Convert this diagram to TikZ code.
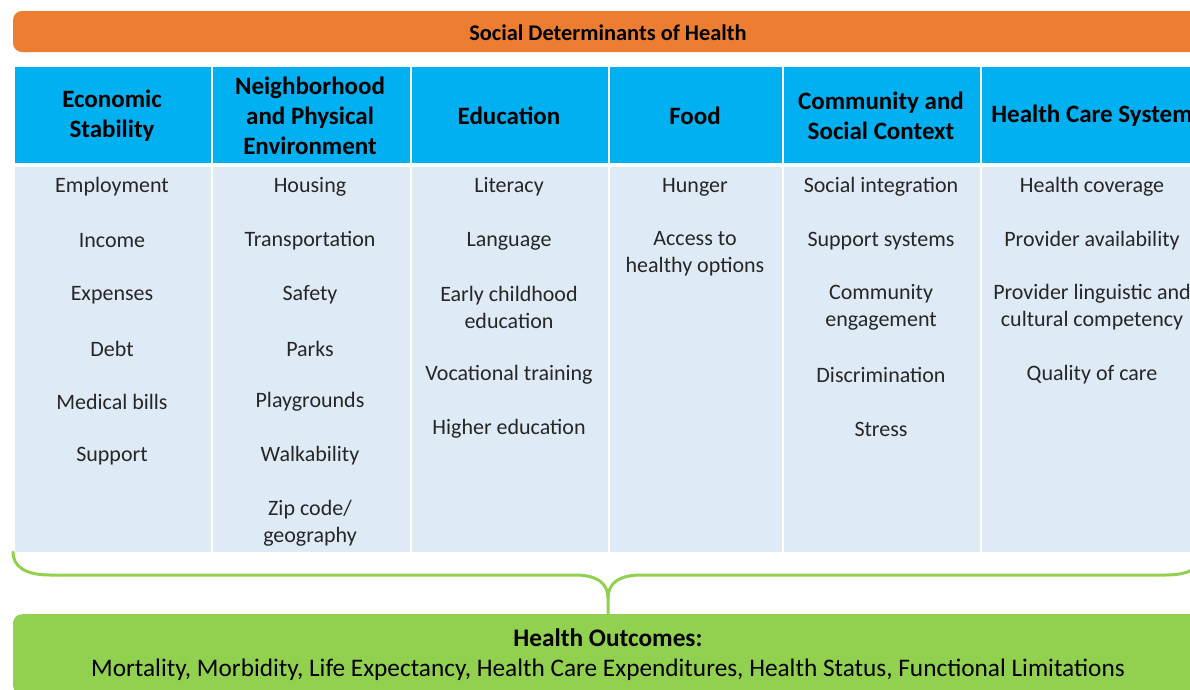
\documentclass[tikz,border=0pt]{standalone}
\usepackage{fontspec}
\setmainfont{Carlito}
\definecolor{orangebar}{HTML}{ED7D31}
\definecolor{headblue}{HTML}{00B0F0}
\definecolor{bodyblue}{HTML}{DEEBF7}
\definecolor{greenbar}{HTML}{92D050}
\definecolor{txt}{HTML}{262626}
\begin{document}
\begin{tikzpicture}[x=1pt,y=-1pt,
  headcell/.style={fill=headblue, draw=white, line width=2pt, inner sep=0pt, anchor=north west,
    minimum height=98pt},
  headtext/.style={inner sep=0pt, align=center, text=black, font=\fontsize{25}{30}\selectfont\bfseries},
  bodycell/.style={fill=bodyblue, draw=white, line width=2pt, inner sep=0pt, anchor=north west,
    minimum height=387pt},
  item/.style={inner sep=0pt, align=center, text=txt, font=\fontsize{22}{27}\selectfont},
  bar/.style={rounded corners=9pt, inner sep=0pt, align=center},
  brace/.style={draw=greenbar, line width=3pt, line cap=round}
]
\useasboundingbox (0,0) rectangle (1190,689);
\clip (0,0) rectangle (1190,689);

% top bar
\node[bar, fill=orangebar, minimum width=1190pt, minimum height=41pt] (top) at (608,31.5) {};
\node[inner sep=0pt, font=\fontsize{22.4}{26}\selectfont\bfseries, text=black] (toptext) at (608,32.5) {Social Determinants of Health};

% header cells
\node[headcell, minimum width=198pt] (hd1) at (13,65) {};
\node[headcell, minimum width=199pt] (hd2) at (211,65) {};
\node[headcell, minimum width=198pt] (hd3) at (410,65) {};
\node[headcell, minimum width=174pt] (hd4) at (608,65) {};
\node[headcell, minimum width=198pt] (hd5) at (782,65) {};
\node[headcell, minimum width=224pt] (hd6) at (980,65) {};
\node[headtext] (ht1) at (112,116) {Economic\\Stability};
\node[headtext] (ht2) at (310,116) {Neighborhood\\and Physical\\Environment};
\node[headtext] (ht3) at (509,116) {Education};
\node[headtext] (ht4) at (695,116) {Food};
\node[headtext] (ht5) at (881,116) {Community and\\Social Context};
\node[headtext] (ht6) at (1092,116) {Health Care System};

% body cells
\node[bodycell, minimum width=198pt] (bd1) at (13,165) {};
\node[bodycell, minimum width=199pt] (bd2) at (211,165) {};
\node[bodycell, minimum width=198pt] (bd3) at (410,165) {};
\node[bodycell, minimum width=174pt] (bd4) at (608,165) {};
\node[bodycell, minimum width=198pt] (bd5) at (782,165) {};
\node[bodycell, minimum width=224pt] (bd6) at (980,165) {};

% column 1
\node[item] (e1) at (112,187) {Employment};
\node[item] (e2) at (112,241) {Income};
\node[item] (e3) at (112,295) {Expenses};
\node[item] (e4) at (112,349) {Debt};
\node[item] (e5) at (112,402) {Medical bills};
\node[item] (e6) at (112,456) {Support};

% column 2
\node[item] (n1) at (310,187) {Housing};
\node[item] (n2) at (310,241) {Transportation};
\node[item] (n3) at (310,295) {Safety};
\node[item] (n4) at (310,349) {Parks};
\node[item] (n5) at (310,402) {Playgrounds};
\node[item] (n6) at (310,456) {Walkability};
\node[item] (n7) at (310,523.5) {Zip code/\\geography};

% column 3
\node[item] (d1) at (509,187) {Literacy};
\node[item] (d2) at (509,241) {Language};
\node[item] (d3) at (509,307.5) {Early childhood\\education};
\node[item] (d4) at (509,375) {Vocational training};
\node[item] (d5) at (509,429) {Higher education};

% column 4
\node[item] (f1) at (695,187) {Hunger};
\node[item] (f2) at (695,254) {Access to\\healthy options};

% column 5
\node[item] (c1) at (881,187) {Social integration};
\node[item] (c2) at (881,241) {Support systems};
\node[item] (c3) at (881,307.5) {Community\\engagement};
\node[item] (c4) at (881,375) {Discrimination};
\node[item] (c5) at (881,429) {Stress};

% column 6
\node[item] (h1) at (1092,187) {Health coverage};
\node[item] (h2) at (1092,241) {Provider availability};
\node[item] (h3) at (1092,307.5) {Provider linguistic and\\cultural competency};
\node[item] (h4) at (1092,375) {Quality of care};

% bottom bar
\node[bar, fill=greenbar, minimum width=1190pt, minimum height=80pt, anchor=north] (out) at (608,614) {};
\node[inner sep=0pt, align=center, font=\fontsize{25.3}{30}\selectfont, text=black] (outtext) at (608,655)
  {\textbf{Health Outcomes:}\\Mortality, Morbidity, Life Expectancy, Health Care Expenditures, Health Status, Functional Limitations};

% brace
\draw[brace] (13,552) .. controls (13,567) and (26,575) .. (50,575) -- (575,575)
  .. controls (598,575) and (608,584) .. (608,598) -- (out.north);
\draw[brace] (608,598) .. controls (608,584) and (618,575) .. (641,575) -- (1166,575)
  .. controls (1190,575) and (1203,567) .. (1203,552);
\end{tikzpicture}
\end{document}
